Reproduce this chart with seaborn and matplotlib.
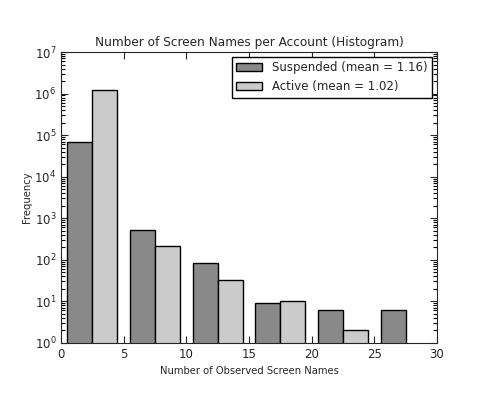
import matplotlib
matplotlib.use("Agg")
import matplotlib.pyplot as plt
from matplotlib.ticker import LogLocator, NullFormatter
import pandas as pd
import seaborn as sns

# bin centres (bins of width 5 from 0 to 30)
bin_centers = [2.5, 7.5, 12.5, 17.5, 22.5, 27.5]
suspended_counts = [68000, 510, 85, 9, 6, 6]
active_counts = [1200000, 210, 32, 10, 2, 0]
groups = ["Suspended (mean = 1.16)", "Active (mean = 1.02)"]
colors = ["#898989", "#cbcbcb"]

df = pd.DataFrame({
    "bin": bin_centers * 2,
    "count": suspended_counts + active_counts,
    "group": [groups[0]] * len(bin_centers) + [groups[1]] * len(bin_centers),
})
df = df[df["count"] > 0]

sns.set_style("ticks", rc={
    "xtick.direction": "in", "ytick.direction": "in",
    "xtick.top": True, "ytick.right": True,
})
plt.rcParams["font.family"] = ["DejaVu Sans"]

fig = plt.figure(figsize=(4.85, 3.94), dpi=100)
ax = fig.add_axes([0.126, 0.13, 0.775, 0.738])

sns.barplot(data=df, x="bin", y="count", hue="group", hue_order=groups,
            palette=colors, native_scale=True, width=0.8, errorbar=None,
            edgecolor="black", linewidth=1.0, saturation=1, ax=ax)

ax.set_yscale("log")
ax.set_ylim(1, 1e7)
ax.yaxis.set_minor_locator(LogLocator(base=10, subs=(2, 3, 4, 5, 6, 7, 8, 9), numticks=30))
ax.yaxis.set_minor_formatter(NullFormatter())
ax.set_xlim(0, 30)
ax.set_xticks([0, 5, 10, 15, 20, 25, 30])
ax.tick_params(labelsize=8.5, length=5)

ax.set_title("Number of Screen Names per Account (Histogram)", fontsize=8.7, pad=4)
ax.set_xlabel("Number of Observed Screen Names", fontsize=7.2)
ax.set_ylabel("Frequency", fontsize=7.2, labelpad=2)

leg = ax.legend(loc="upper right", fontsize=8.5, fancybox=False, framealpha=1,
                edgecolor="black", handlelength=2.2, borderaxespad=0.4)
leg.get_frame().set_linewidth(1.0)

# draw once so the minor tick objects exist, then style them
fig.canvas.draw()
ax.tick_params(axis="y", which="minor", left=True, right=True,
               length=3, width=0.8, color="black")

fig.savefig("out.png", dpi=100, facecolor="white")
